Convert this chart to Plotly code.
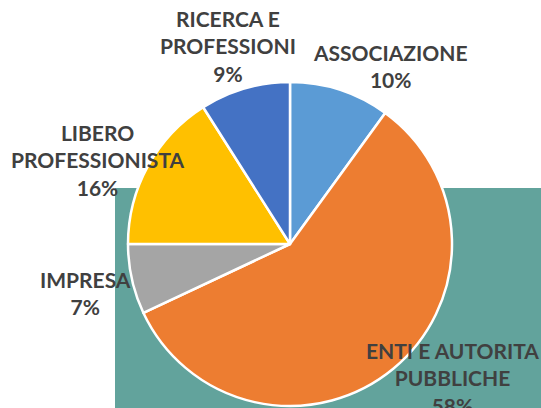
import plotly.graph_objects as go

categories = ["ASSOCIAZIONE", "ENTI E AUTORITA<br>PUBBLICHE", "IMPRESA",
              "LIBERO<br>PROFESSIONISTA", "RICERCA E<br>PROFESSIONI"]
values = [10, 58, 7, 16, 9]
colors = ["#5B9BD5", "#ED7D31", "#A5A5A5", "#FFC000", "#4472C4"]

# label anchor positions (pixels from top-left), layout only
label_pos = [(390, 66), (452, 378), (85, 293), (97, 160), (228, 46)]

W, H = 541, 408
cx, cy, r = 290, 244, 162

fig = go.Figure(go.Pie(
    labels=categories, values=values, sort=False, direction="clockwise",
    rotation=0, marker=dict(colors=colors, line=dict(color="white", width=2.5)),
    textinfo="none", hoverinfo="label+percent", showlegend=False,
    domain=dict(x=[(cx - r) / W, (cx + r) / W], y=[(H - cy - r) / H, (H - cy + r) / H]),
))

total = sum(values)
for cat, v, (px, py) in zip(categories, values, label_pos):
    fig.add_annotation(
        x=px / W, y=1 - py / H, xref="paper", yref="paper",
        text=f"<b>{cat}<br>{round(100 * v / total)}%</b>",
        showarrow=False, xanchor="center", yanchor="middle",
        font=dict(family="Lato", size=21, color="#404040"),
    )

fig.add_shape(type="rect", xref="paper", yref="paper",
              x0=115 / W, x1=1.0, y0=0, y1=1 - 188 / H,
              fillcolor="#62A39C", line=dict(width=0), layer="below")

fig.update_layout(width=W, height=H, margin=dict(l=0, r=0, t=0, b=0),
                  paper_bgcolor="white", plot_bgcolor="white")
fig.write_html("out.html", config={"displayModeBar": False},
               post_script="document.body.style.margin='0';document.body.style.overflow='hidden';")
